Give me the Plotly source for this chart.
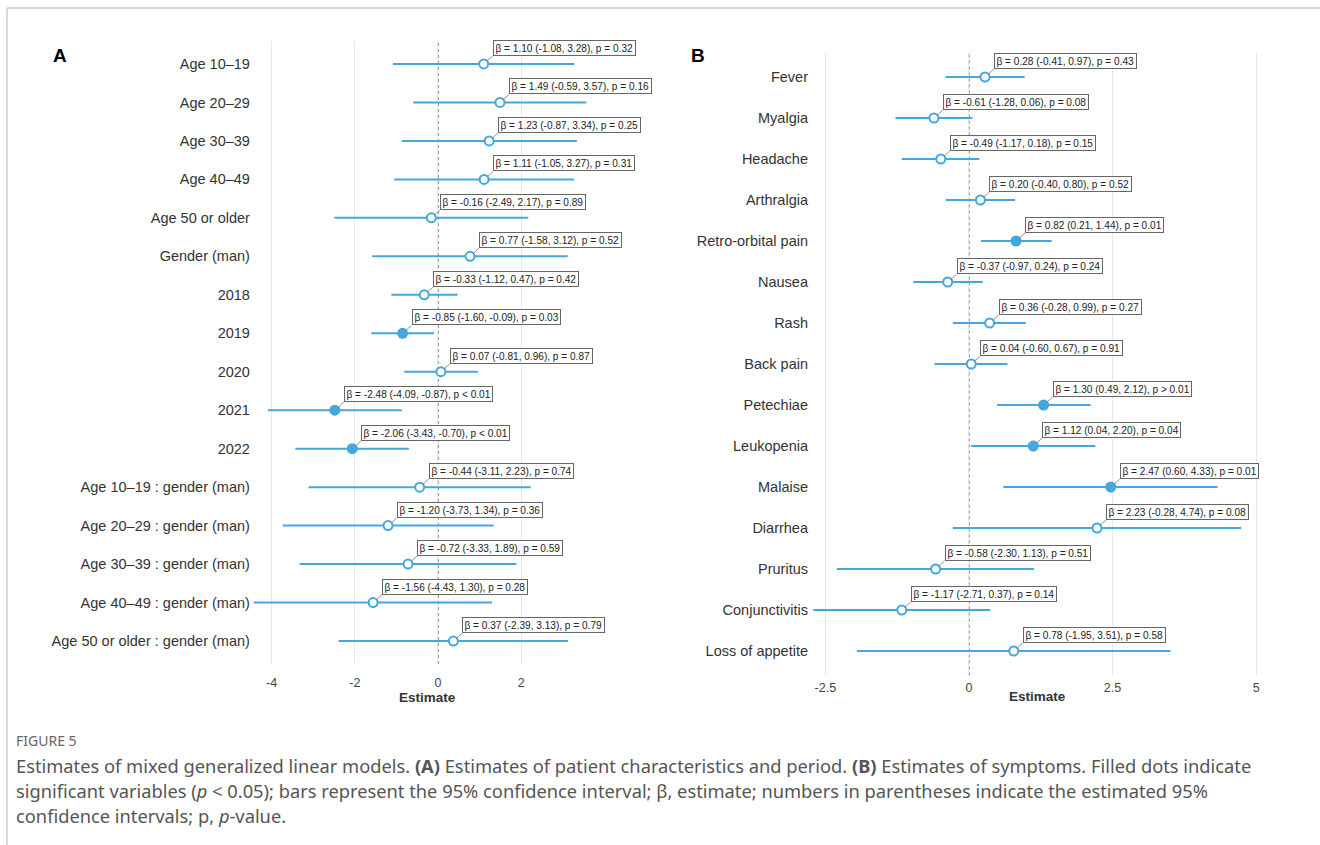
import plotly.graph_objects as go

W, H = 1320, 845

# ---------------- Panel A data ----------------
a_labels = ["Age 10–19", "Age 20–29", "Age 30–39", "Age 40–49", "Age 50 or older",
            "Gender (man)", "2018", "2019", "2020", "2021", "2022",
            "Age 10–19 : gender (man)", "Age 20–29 : gender (man)",
            "Age 30–39 : gender (man)", "Age 40–49 : gender (man)",
            "Age 50 or older : gender (man)"]
a_est = [1.10, 1.49, 1.23, 1.11, -0.16, 0.77, -0.33, -0.85, 0.07, -2.48, -2.06,
         -0.44, -1.20, -0.72, -1.56, 0.37]
a_lo = [-1.08, -0.59, -0.87, -1.05, -2.49, -1.58, -1.12, -1.60, -0.81, -4.09, -3.43,
        -3.11, -3.73, -3.33, -4.43, -2.39]
a_hi = [3.28, 3.57, 3.34, 3.27, 2.17, 3.12, 0.47, -0.09, 0.96, -0.87, -0.70,
        2.23, 1.34, 1.89, 1.30, 3.13]
a_p = ["= 0.32", "= 0.16", "= 0.25", "= 0.31", "= 0.89", "= 0.52", "= 0.42", "= 0.03",
       "= 0.87", "< 0.01", "< 0.01", "= 0.74", "= 0.36", "= 0.59", "= 0.28", "= 0.79"]
a_sig = [False, False, False, False, False, False, False, True, False, True, True,
         False, False, False, False, False]
a_ticks = [-4, -2, 0, 2]

# ---------------- Panel B data ----------------
b_labels = ["Fever", "Myalgia", "Headache", "Arthralgia", "Retro-orbital pain", "Nausea",
            "Rash", "Back pain", "Petechiae", "Leukopenia", "Malaise", "Diarrhea",
            "Pruritus", "Conjunctivitis", "Loss of appetite"]
b_est = [0.28, -0.61, -0.49, 0.20, 0.82, -0.37, 0.36, 0.04, 1.30, 1.12, 2.47, 2.23,
         -0.58, -1.17, 0.78]
b_lo = [-0.41, -1.28, -1.17, -0.40, 0.21, -0.97, -0.28, -0.60, 0.49, 0.04, 0.60, -0.28,
        -2.30, -2.71, -1.95]
b_hi = [0.97, 0.06, 0.18, 0.80, 1.44, 0.24, 0.99, 0.67, 2.12, 2.20, 4.33, 4.74,
        1.13, 0.37, 3.51]
b_p = ["= 0.43", "= 0.08", "= 0.15", "= 0.52", "= 0.01", "= 0.24", "= 0.27", "= 0.91",
       "> 0.01", "= 0.04", "= 0.01", "= 0.08", "= 0.51", "= 0.14", "= 0.58"]
b_sig = [False, False, False, False, True, False, False, False, True, True, True, False,
         False, False, False]
b_ticks = [-2.5, 0, 2.5, 5]
b_ticktext = ["-2.5", "0", "2.5", "5"]

BLUE = "#45A7DD"
FONT = "Liberation Sans, Arial, sans-serif"

fig = go.Figure()


def add_panel(labels, est, lo, hi, pv, sig, xa, ya):
    xs, ys = [], []
    for i in range(len(labels)):
        xs += [lo[i], hi[i], None]
        ys += [i, i, None]
    fig.add_trace(go.Scatter(x=xs, y=ys, mode="lines", line=dict(color=BLUE, width=2),
                             xaxis=xa, yaxis=ya, showlegend=False, hoverinfo="skip"))
    ns = [i for i in range(len(labels)) if not sig[i]]
    ss = [i for i in range(len(labels)) if sig[i]]
    fig.add_trace(go.Scatter(x=[est[i] for i in ns], y=ns, mode="markers",
                             marker=dict(size=9, color="white", line=dict(color=BLUE, width=2)),
                             xaxis=xa, yaxis=ya, showlegend=False))
    fig.add_trace(go.Scatter(x=[est[i] for i in ss], y=ss, mode="markers",
                             marker=dict(size=11, color=BLUE, line=dict(color=BLUE, width=0)),
                             xaxis=xa, yaxis=ya, showlegend=False))
    for i in range(len(labels)):
        p = pv[i].replace("<", "&lt;").replace(">", "&gt;")
        txt = f"β = {est[i]:.2f} ({lo[i]:.2f}, {hi[i]:.2f}), p {p}"
        fig.add_annotation(x=est[i], y=i, xref=xa, yref=ya, text=txt,
                           showarrow=True, ax=9, ay=-8, axref="pixel", ayref="pixel",
                           arrowhead=0, arrowwidth=0.8, arrowcolor="#777", standoff=4,
                           xanchor="left", yanchor="bottom",
                           font=dict(family=FONT, size=10.1, color="#222"),
                           bgcolor="white", bordercolor="#666", borderwidth=1, borderpad=1.5)
    # dashed zero line
    fig.add_shape(type="line", x0=0, x1=0, y0=0, y1=1, xref=xa, yref=ya + " domain",
                  line=dict(color="#555", width=1.2, dash="3px,3px"), layer="below")


add_panel(a_labels, a_est, a_lo, a_hi, a_p, a_sig, "x", "y")
add_panel(b_labels, b_est, b_lo, b_hi, b_p, b_sig, "x2", "y2")


def px(v):
    return v / W


def py(v):
    return 1 - v / H


axis_common = dict(showline=False, zeroline=False, ticks="", gridcolor="#E8E8E8",
                   gridwidth=1)

fig.update_layout(
    width=W, height=H, margin=dict(l=0, r=0, t=0, b=0),
    paper_bgcolor="white", plot_bgcolor="white",
    font=dict(family=FONT, color="#444"),
    xaxis=dict(domain=[px(252.9), px(601)], range=[-4.45, 3.92], anchor="y",
               tickvals=a_ticks, ticktext=[str(t) for t in a_ticks], showgrid=True,
               tickfont=dict(size=12.5, color="#444"), ticklabelstandoff=9, **axis_common),
    yaxis=dict(domain=[py(664.1), py(40.9)], range=[15.6, -0.6], anchor="x",
               tickvals=list(range(len(a_labels))), ticktext=a_labels, showgrid=False,
               tickfont=dict(size=14.5, color="#333"), ticklabelstandoff=2, **axis_common),
    xaxis2=dict(domain=[px(811), px(1263)], range=[-2.75, 5.12], anchor="y2",
                tickvals=b_ticks, ticktext=b_ticktext, showgrid=True,
                tickfont=dict(size=12.5, color="#444"), ticklabelstandoff=3, **axis_common),
    yaxis2=dict(domain=[py(675.6), py(52.4)], range=[14.6, -0.6], anchor="x2",
                tickvals=list(range(len(b_labels))), ticktext=b_labels, showgrid=False,
                tickfont=dict(size=14.5, color="#333"), ticklabelstandoff=2, **axis_common),
)

# axis titles
for xc, yc in [(427, 697), (1037, 696)]:
    fig.add_annotation(x=px(xc), y=py(yc), xref="paper", yref="paper", text="<b>Estimate</b>",
                       showarrow=False, xanchor="center", yanchor="middle",
                       font=dict(family=FONT, size=13.5, color="#333"))

# panel letters
for letter, xc in [("A", 60), ("B", 698)]:
    fig.add_annotation(x=px(xc), y=py(55), xref="paper", yref="paper", text=f"<b>{letter}</b>",
                       showarrow=False, xanchor="center", yanchor="middle",
                       font=dict(family=FONT, size=19, color="black"))

# frame
fig.add_shape(type="line", xref="paper", yref="paper", x0=px(7), x1=1, y0=py(8), y1=py(8),
              line=dict(color="#CCCCCC", width=1.5))
fig.add_shape(type="line", xref="paper", yref="paper", x0=px(7), x1=px(7), y0=py(8), y1=0,
              line=dict(color="#CCCCCC", width=1.5))

# caption
CAP = "Noto Sans, Open Sans, sans-serif"
fig.add_annotation(x=px(14), y=py(740), xref="paper", yref="paper", text="FIGURE 5",
                   showarrow=False, xanchor="left", yanchor="middle",
                   font=dict(family=CAP, size=14, color="#666"))
cap_lines = [
    "Estimates of mixed generalized linear models. <b>(A)</b> Estimates of patient characteristics and period. <b>(B)</b> Estimates of symptoms. Filled dots indicate",
    "significant variables (<i>p</i> &lt; 0.05); bars represent the 95% confidence interval; β, estimate; numbers in parentheses indicate the estimated 95%",
    "confidence intervals; p, <i>p</i>-value.",
]
for k, line in enumerate(cap_lines):
    fig.add_annotation(x=px(14), y=py(765 + 25 * k), xref="paper", yref="paper", text=line,
                       showarrow=False, xanchor="left", yanchor="middle",
                       font=dict(family=CAP, size=18.3, color="#555"))

fig.write_html("out.html")
